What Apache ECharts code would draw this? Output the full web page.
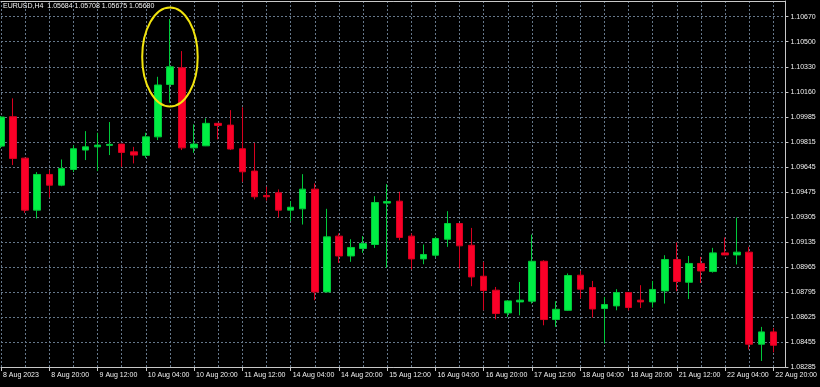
<!DOCTYPE html>
<html><head><meta charset="utf-8">
<script src="https://cdn.jsdelivr.net/npm/echarts@6/dist/echarts.min.js"></script>
<style>html,body{margin:0;padding:0;background:#000;}#c{width:820px;height:387px;}</style>
</head><body><div id="c"></div>
<script>
// ---- header ----
const headerText = 'EURUSD,H4  1.05684 1.05708 1.05675 1.05680';

// ---- x tick labels (every 4th H4 bar) ----
const timeLabels = ['8 Aug 2023','8 Aug 20:00','9 Aug 12:00','10 Aug 04:00','10 Aug 20:00','11 Aug 12:00',
  '14 Aug 04:00','14 Aug 20:00','15 Aug 12:00','16 Aug 04:00','16 Aug 20:00','17 Aug 12:00',
  '18 Aug 04:00','18 Aug 20:00','21 Aug 12:00','22 Aug 04:00','22 Aug 20:00'];

// ---- y tick labels ----
const priceLabels = ['1.08285','1.08455','1.08625','1.08795','1.08965','1.09135','1.09305','1.09475',
  '1.09645','1.09815','1.09985','1.10160','1.10330','1.10500','1.10670'];
const yMin = 1.08285, yMax = 1.10777, yStep = 0.0017036;

// ---- candles: [open, close, low, high] ----
const candles = [
  [1.09789,1.09987,1.09775,1.09993],
  [1.09989,1.09705,1.09660,1.10114],
  [1.09707,1.09353,1.09334,1.09710],
  [1.09353,1.09596,1.09296,1.09612],
  [1.09596,1.09523,1.09439,1.09625],
  [1.09523,1.09637,1.09516,1.09698],
  [1.09630,1.09771,1.09612,1.09794],
  [1.09762,1.09784,1.09694,1.09891],
  [1.09784,1.09796,1.09619,1.09880],
  [1.09794,1.09801,1.09728,1.09953],
  [1.09803,1.09746,1.09648,1.09805],
  [1.09750,1.09728,1.09671,1.09784],
  [1.09726,1.09852,1.09709,1.09880],
  [1.09852,1.10205,1.09830,1.10261],
  [1.10209,1.10329,1.10084,1.10654],
  [1.10322,1.09777,1.09762,1.10436],
  [1.09777,1.09803,1.09743,1.09937],
  [1.09791,1.09944,1.09789,1.09978],
  [1.09944,1.09930,1.09835,1.09946],
  [1.09932,1.09769,1.09762,1.10034],
  [1.09771,1.09614,1.09546,1.10053],
  [1.09619,1.09444,1.09426,1.09811],
  [1.09453,1.09444,1.09418,1.09512],
  [1.09471,1.09353,1.09303,1.09494],
  [1.09353,1.09373,1.09280,1.09414],
  [1.09362,1.09496,1.09255,1.09598],
  [1.09496,1.08796,1.08740,1.09535],
  [1.08796,1.09171,1.08794,1.09362],
  [1.09176,1.09041,1.08994,1.09194],
  [1.09041,1.09099,1.09001,1.09155],
  [1.09092,1.09126,1.09062,1.09176],
  [1.09119,1.09405,1.09096,1.09448],
  [1.09401,1.09412,1.08960,1.09530],
  [1.09414,1.09167,1.09148,1.09478],
  [1.09176,1.09021,1.08949,1.09194],
  [1.09021,1.09051,1.08985,1.09119],
  [1.09046,1.09160,1.09031,1.09171],
  [1.09155,1.09262,1.09103,1.09346],
  [1.09262,1.09110,1.08956,1.09265],
  [1.09114,1.08898,1.08835,1.09232],
  [1.08903,1.08806,1.08671,1.09001],
  [1.08808,1.08649,1.08610,1.08830],
  [1.08653,1.08735,1.08626,1.08740],
  [1.08728,1.08740,1.08637,1.08864],
  [1.08733,1.09005,1.08717,1.09187],
  [1.09005,1.08608,1.08569,1.09012],
  [1.08608,1.08678,1.08558,1.08733],
  [1.08671,1.08908,1.08667,1.08922],
  [1.08910,1.08815,1.08751,1.08939],
  [1.08826,1.08680,1.08622,1.08871],
  [1.08683,1.08710,1.08445,1.08762],
  [1.08701,1.08792,1.08671,1.08815],
  [1.08792,1.08690,1.08671,1.08794],
  [1.08740,1.08728,1.08687,1.08842],
  [1.08728,1.08813,1.08690,1.08871],
  [1.08803,1.09017,1.08717,1.09046],
  [1.09017,1.08867,1.08801,1.09133],
  [1.08862,1.08990,1.08748,1.09041],
  [1.08990,1.08939,1.08857,1.09035],
  [1.08935,1.09062,1.08928,1.09096],
  [1.09062,1.09048,1.09046,1.09167],
  [1.09048,1.09067,1.08983,1.09303],
  [1.09067,1.08440,1.08404,1.09103],
  [1.08440,1.08524,1.08326,1.08558],
  [1.08524,1.08433,1.08385,1.08551]
];

// highlight annotation (data coordinates): centre bar, centre price, half-width in bars, half-height in price
const highlight = {bar: 14, price: 1.10395, halfBars: 2.3, halfPrice: 0.00337};

// one extra empty slot at the right edge
const barKeys = Array.from({length: candles.length + 1}, (_, i) => String(i));

const FONT = 'Liberation Sans';
const GRID_COLOR = '#65778a';
const AXIS_COLOR = '#c8c8c8';
const TEXT_COLOR = '#f0f0f0';

const chart = echarts.init(document.getElementById('c'), null, {renderer: 'canvas'});
chart.setOption({
  backgroundColor: '#000000',
  animation: false,
  grid: {left: 0, right: 32, top: 1, bottom: 20, containLabel: false},
  xAxis: [{
    type: 'category',
    data: barKeys,
    boundaryGap: false,
    position: 'bottom',
    axisLine: {show: true, lineStyle: {color: AXIS_COLOR, width: 1}},
    axisTick: {show: true, interval: 3, length: 4, inside: false, lineStyle: {color: AXIS_COLOR}},
    axisLabel: {
      show: true, interval: 3, align: 'left', margin: 5, padding: [0,0,0,2],
      color: TEXT_COLOR, fontFamily: FONT, fontSize: 7,
      formatter: (v, idx) => (idx % 4 === 0 && timeLabels[idx / 4]) ? timeLabels[idx / 4] : ''
    },
    splitLine: {show: true, interval: 1, lineStyle: {color: GRID_COLOR, type: [2, 2], width: 1}}
  }, {
    type: 'category',
    data: barKeys,
    boundaryGap: false,
    position: 'top',
    axisLine: {show: true, lineStyle: {color: AXIS_COLOR, width: 1}},
    axisTick: {show: false},
    axisLabel: {show: false},
    splitLine: {show: false}
  }],
  yAxis: {
    type: 'value',
    position: 'right',
    min: yMin, max: yMax, interval: yStep,
    scale: true,
    axisLine: {show: true, lineStyle: {color: AXIS_COLOR, width: 1}},
    axisTick: {show: true, length: 3, lineStyle: {color: AXIS_COLOR}},
    axisLabel: {
      show: true, margin: 5, color: TEXT_COLOR, fontFamily: FONT, fontSize: 7,
      showMaxLabel: false,
      formatter: (v) => {
        const r = (v - yMin) / yStep;
        const k = Math.round(r);
        if (Math.abs(r - k) > 0.02) return '';
        return priceLabels[k] || '';
      }
    },
    splitLine: {show: true, lineStyle: {color: GRID_COLOR, type: [2, 2], width: 1}}
  },
  series: [{
    type: 'candlestick',
    xAxisIndex: 0,
    data: candles,
    barWidth: 7,
    itemStyle: {
      color: '#00ee44', color0: '#fa0028',
      borderColor: '#00c83a', borderColor0: '#d8001f',
      borderWidth: 1
    }
  }]
});

// header text and highlight ellipse
const hc = chart.convertToPixel({gridIndex: 0}, [highlight.bar, highlight.price]);
const hStep = chart.convertToPixel({gridIndex: 0}, [highlight.bar + 1, highlight.price])[0] - hc[0];
const hTop = chart.convertToPixel({gridIndex: 0}, [highlight.bar, highlight.price + highlight.halfPrice])[1];
chart.setOption({
  graphic: [
    {type: 'text', left: 3, top: 3, silent: true,
     style: {text: headerText, fill: TEXT_COLOR, font: '7px "' + FONT + '"'}},
    {type: 'ellipse', silent: true, z: 100,
     shape: {cx: hc[0], cy: hc[1], rx: hStep * highlight.halfBars, ry: hc[1] - hTop},
     style: {fill: 'none', stroke: '#f2e40e', lineWidth: 2}}
  ]
});
</script></body></html>
